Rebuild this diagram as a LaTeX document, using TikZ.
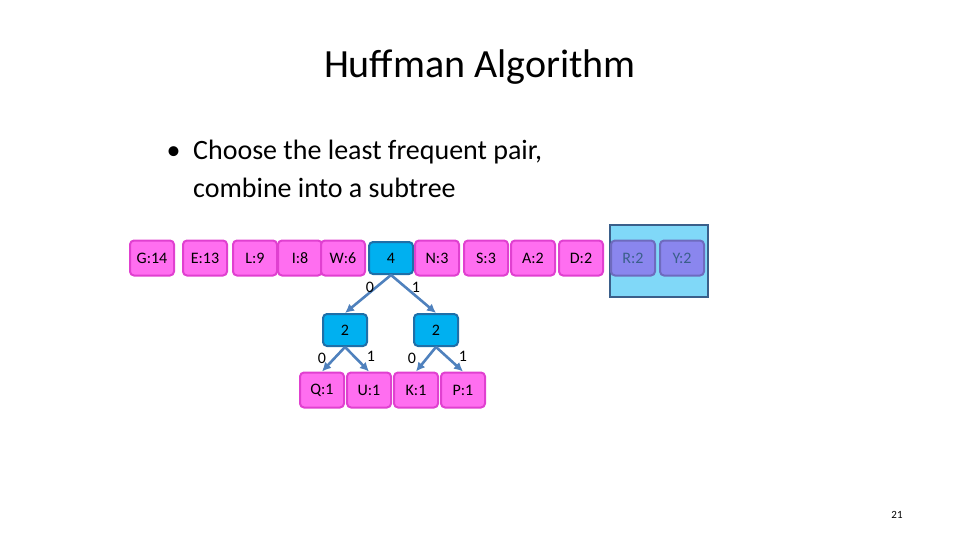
\documentclass[tikz,border=0pt]{standalone}
\usepackage{fontspec}
\setmainfont{Carlito}
\usetikzlibrary{arrows.meta}
\definecolor{pinkfill}{HTML}{FF6EF0}
\definecolor{pinkline}{HTML}{E040D0}
\definecolor{cyanfill}{HTML}{00B0F0}
\definecolor{cyanline}{HTML}{1F6FA8}
\definecolor{steel}{HTML}{4F81BD}
\definecolor{hlfill}{HTML}{80D8F8}
\definecolor{hlline}{HTML}{3A5F8A}
\definecolor{mixfill}{HTML}{8A86EE}
\tikzset{
  leaf/.style={shape=rectangle,rounded corners=4pt,draw=pinkline,line width=2pt,fill=pinkfill,minimum width=44pt,minimum height=35pt,inner sep=1pt,font=\fontsize{16}{16}\selectfont},
  sel/.style={leaf,fill=mixfill,draw=mixfill!80!black,text=hlline},
  inner/.style={leaf,fill=cyanfill,draw=cyanline,minimum width=44pt,minimum height=32pt},
  branch/.style={-{Latex[length=9pt,width=9pt]},draw=steel,line width=2.6pt},
  bit/.style={font=\fontsize{16}{16}\selectfont}
}
\begin{document}
\begin{tikzpicture}[x=1pt,y=-1pt]
\useasboundingbox (0,0) rectangle (960,540);
\node (title) at (480,67) {\fontsize{40}{40}\selectfont Huffman Algorithm};
\node[anchor=west,align=left,font=\fontsize{28}{38}\selectfont] (bullet) at (163,169) {\textbullet\ \ Choose the least frequent pair,\\\phantom{\textbullet\ \ }combine into a subtree};

\draw[fill=hlfill,draw=hlline,line width=2pt] (610,225) rectangle (708,297);

\node[leaf] (g) at (152,258) {G:14};
\node[leaf] (e) at (205,258) {E:13};
\node[leaf] (l) at (255,258) {L:9};
\node[leaf] (i) at (300,258) {I:8};
\node[leaf] (w) at (343,258) {W:6};
\node[inner] (n4) at (391,258) {4};
\node[leaf] (n) at (437,258) {N:3};
\node[leaf] (s) at (486,258) {S:3};
\node[leaf] (a) at (533,258) {A:2};
\node[leaf] (d) at (581,258) {D:2};
\node[sel] (r) at (633,258) {R:2};
\node[sel] (y) at (682,258) {Y:2};

\node[inner] (n2a) at (345,330) {2};
\node[inner] (n2b) at (436,330) {2};

\node[leaf] (q) at (322,390) {Q:1};
\node[leaf] (u) at (369,390) {U:1};
\node[leaf] (k) at (416,390) {K:1};
\node[leaf] (p) at (463,390) {P:1};

\draw[branch] (n4.south) -- (n2a.north);
\draw[branch] (n4.south) -- (n2b.north);
\draw[branch] (n2a.south) -- (q.north);
\draw[branch] (n2a.south) -- (u.north);
\draw[branch] (n2b.south) -- (k.north);
\draw[branch] (n2b.south) -- (p.north);

\node[bit] (b1) at (370,287) {0};
\node[bit] (b2) at (416,287) {1};
\node[bit] (b3) at (322,358) {0};
\node[bit] (b4) at (371,356) {1};
\node[bit] (b5) at (412,358) {0};
\node[bit] (b6) at (463,356) {1};

\node[font=\fontsize{11}{11}\selectfont] (page) at (897,515) {21};
\end{tikzpicture}
\end{document}
